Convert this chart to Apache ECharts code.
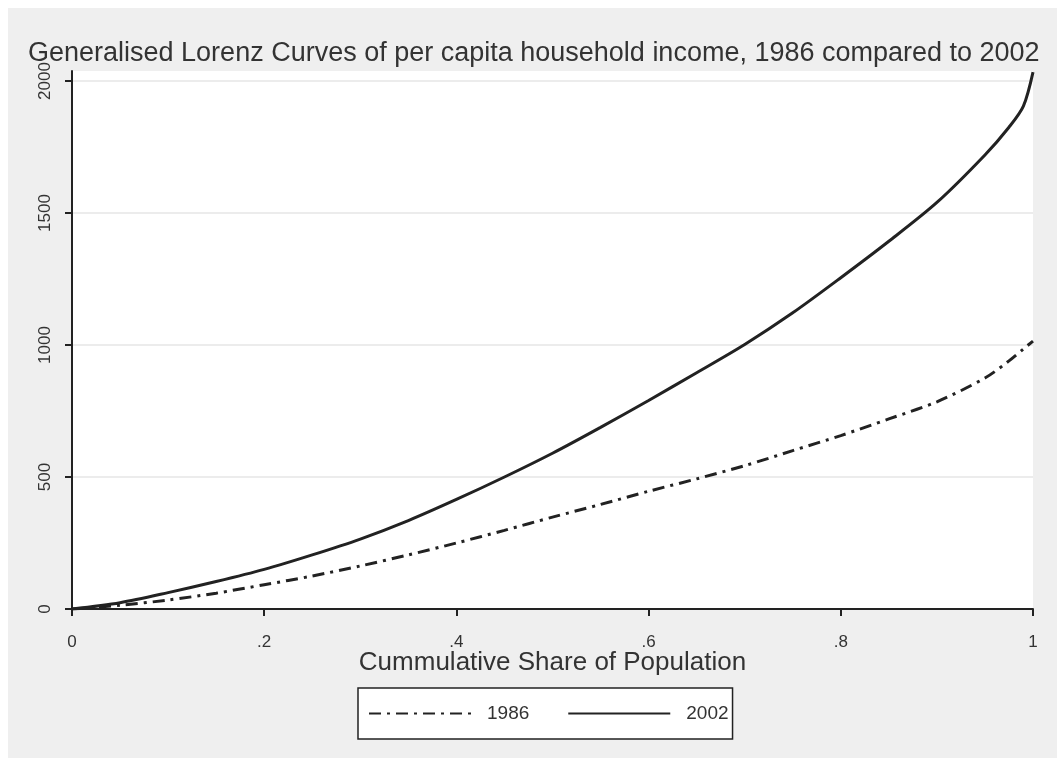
<!DOCTYPE html>
<html lang="en">
<head>
    <meta charset="UTF-8">
    <title>Generalised Lorenz Curves</title>
    <script src="https://cdn.jsdelivr.net/npm/echarts@6/dist/echarts.min.js"></script>
    <style>
        body { margin: 0; background: #fff; }
        #main { position: absolute; left: 8px; top: 8px; width: 1049px; height: 750px; background: #efefef; }
    </style>
</head>
<body>
    <div id="main"></div>
    <script type="text/javascript">
        // cumulative population share and generalised Lorenz ordinates
        var share = [0, 0.05, 0.1, 0.15, 0.2, 0.25, 0.3, 0.35, 0.4, 0.45, 0.5, 0.55, 0.6, 0.65,
                     0.7, 0.75, 0.8, 0.85, 0.9, 0.95, 0.975, 0.99, 1];
        var glc1986 = [0, 14, 34, 60, 92, 125, 163, 205, 250, 298, 348, 396, 446, 493,
                       543, 600, 657, 720, 785, 875, 940, 985, 1015];
        var glc2002 = [0, 24, 62, 104, 150, 205, 265, 335, 415, 500, 590, 688, 790, 895,
                       1002, 1122, 1255, 1393, 1540, 1720, 1825, 1905, 2034];
        var yTicks = [0, 500, 1000, 1500, 2000];

        function pairs(xs, ys) {
            return xs.map(function (x, i) { return [x, ys[i]]; });
        }

        var myChart = echarts.init(document.getElementById('main'));
        var font = 'Liberation Sans, Arial, sans-serif';

        var option = {
            backgroundColor: 'transparent',
            animation: false,
            title: {
                text: 'Generalised Lorenz Curves of per capita household income, 1986 compared to 2002',
                left: 20,
                top: 32,
                padding: 0,
                textStyle: { fontFamily: font, fontWeight: 'normal', fontSize: 27, color: '#333' }
            },
            grid: {
                left: 64, right: 24, top: 63, bottom: 149,
                show: true, backgroundColor: '#fff', borderWidth: 0
            },
            legend: {
                left: 350,
                top: 680,
                padding: [16, 4, 16, 10],
                itemGap: 38,
                itemWidth: 102,
                itemHeight: 14,
                backgroundColor: '#fff',
                borderColor: '#222',
                borderWidth: 1.5,
                borderRadius: 0,
                itemStyle: { opacity: 0 },
                textStyle: { fontFamily: font, fontSize: 19, color: '#333', padding: [0, 0, 0, 11] },
                data: ['1986', '2002']
            },
            xAxis: {
                type: 'value',
                min: 0, max: 1, interval: 0.2,
                name: 'Cummulative Share of Population',
                nameLocation: 'middle',
                nameGap: 41,
                nameMoveOverlap: false,
                nameTextStyle: { fontFamily: font, fontSize: 26, color: '#333' },
                axisLine: { lineStyle: { color: '#222', width: 2 } },
                axisTick: { show: true, length: 7, lineStyle: { color: '#222', width: 2 } },
                axisLabel: {
                    margin: 25,
                    fontFamily: font, fontSize: 17, color: '#333',
                    formatter: function (v) {
                        if (v === 0 || v === 1) return String(v);
                        return String(+v.toFixed(1)).replace('0.', '.');
                    }
                },
                splitLine: { show: false }
            },
            yAxis: {
                type: 'value',
                min: 0, max: 2038, interval: 500,
                axisLine: { show: true, lineStyle: { color: '#222', width: 2 } },
                axisTick: { show: true, length: 7, customValues: yTicks, lineStyle: { color: '#222', width: 2 } },
                axisLabel: {
                    rotate: 90,
                    margin: 18,
                    customValues: yTicks,
                    fontFamily: font, fontSize: 17, color: '#333',
                    formatter: function (v) { return String(v); }
                },
                splitLine: { show: true, lineStyle: { color: '#e6e6e6', width: 1.5 } }
            },
            series: [
                {
                    name: '1986',
                    type: 'line',
                    data: pairs(share, glc1986),
                    smooth: 0.3,
                    symbol: 'none',
                    lineStyle: { color: '#222', width: 3, type: [12, 6, 3, 6] },
                    itemStyle: { color: '#222' }
                },
                {
                    name: '2002',
                    type: 'line',
                    data: pairs(share, glc2002),
                    smooth: 0.3,
                    symbol: 'none',
                    lineStyle: { color: '#222', width: 3 },
                    itemStyle: { color: '#222' }
                }
            ]
        };

        myChart.setOption(option);
    </script>
</body>
</html>
